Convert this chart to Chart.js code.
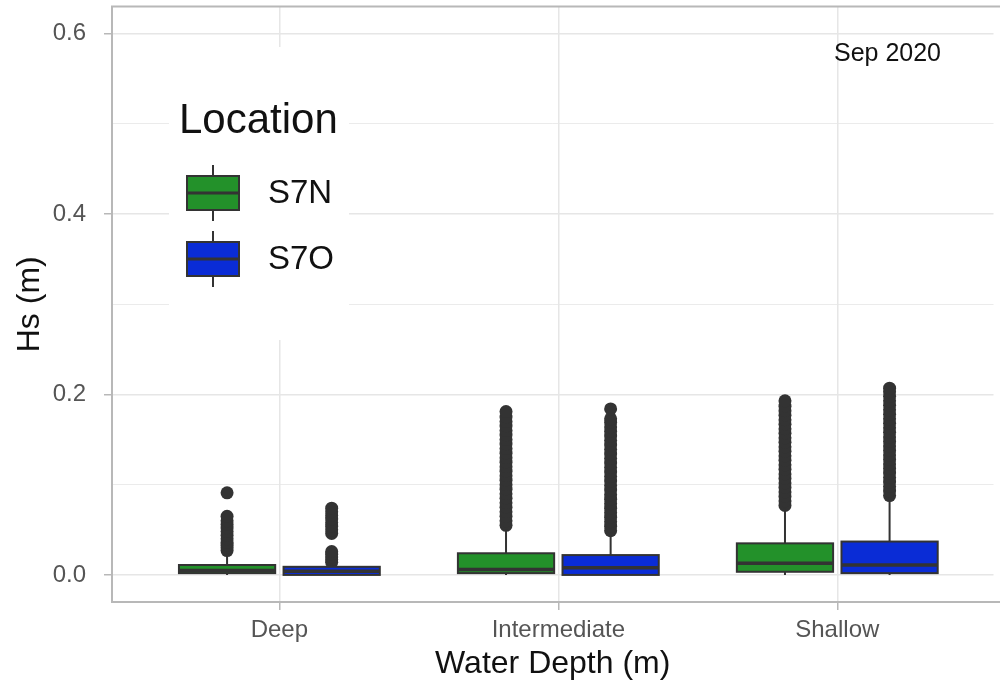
<!DOCTYPE html>
<html lang="en">
<head>
    <meta charset="UTF-8">
    <title>Hs by water depth - Sep 2020</title>
    <script src="https://cdn.jsdelivr.net/npm/chart.js@4.4.0"></script>
    <style>
        html, body { margin: 0; padding: 0; background: #fff; overflow: hidden; }
        .chart-container { width: 1000px; height: 686px; position: relative; }
    </style>
</head>
<body>
    <div class="chart-container">
        <canvas id="hsChart"></canvas>
    </div>

    <script>
        // categories / ticks
        const categories = ['Deep', 'Intermediate', 'Shallow'];
        const locations = ['S7N', 'S7O'];
        const yTicks = [0, 0.1, 0.2, 0.3, 0.4, 0.5, 0.6];
        const yTickLabels = ['0.0', '', '0.2', '', '0.4', '', '0.6'];

        // box stats, one value per depth category
        const s7nLow  = [0.000, 0.000, 0.000];
        const s7nQ1   = [0.002, 0.002, 0.0035];
        const s7nMed  = [0.005, 0.006, 0.013];
        const s7nQ3   = [0.011, 0.024, 0.035];
        const s7nHigh = [0.024, 0.050, 0.074];

        const s7oLow  = [0.000, 0.000, 0.000];
        const s7oQ1   = [0.000, 0.000, 0.002];
        const s7oMed  = [0.004, 0.008, 0.011];
        const s7oQ3   = [0.009, 0.022, 0.037];
        const s7oHigh = [0.012, 0.045, 0.086];

        // outliers
        const s7nDeepOut = [0.027, 0.030, 0.033, 0.036, 0.040, 0.044, 0.048, 0.052, 0.056, 0.060, 0.065, 0.091];
        const s7nInterOut = [0.055, 0.060, 0.065, 0.070, 0.075, 0.080, 0.085, 0.090, 0.095, 0.100, 0.105, 0.110,
            0.115, 0.120, 0.125, 0.130, 0.135, 0.140, 0.145, 0.150, 0.155, 0.160, 0.165, 0.170, 0.175, 0.181];
        const s7nShallowOut = [0.077, 0.082, 0.087, 0.092, 0.097, 0.102, 0.107, 0.112, 0.117, 0.122, 0.127, 0.132,
            0.137, 0.142, 0.147, 0.152, 0.157, 0.162, 0.167, 0.172, 0.177, 0.182, 0.187, 0.193];

        const s7oDeepOut = [0.014, 0.017, 0.020, 0.023, 0.026, 0.046, 0.050, 0.054, 0.058, 0.062, 0.066, 0.070, 0.074];
        const s7oInterOut = [0.049, 0.054, 0.059, 0.064, 0.069, 0.074, 0.079, 0.084, 0.089, 0.094, 0.099, 0.104,
            0.109, 0.114, 0.119, 0.124, 0.129, 0.134, 0.139, 0.144, 0.149, 0.154, 0.159, 0.164, 0.169, 0.173, 0.184];
        const s7oShallowOut = [0.088, 0.093, 0.098, 0.103, 0.108, 0.113, 0.118, 0.123, 0.128, 0.133, 0.138, 0.143,
            0.148, 0.153, 0.158, 0.163, 0.168, 0.173, 0.178, 0.183, 0.188, 0.193, 0.198, 0.203, 0.207];

        const s7nOut = [s7nDeepOut, s7nInterOut, s7nShallowOut];
        const s7oOut = [s7oDeepOut, s7oInterOut, s7oShallowOut];

        const fills = ['#23912a', '#0a2cd6'];
        const dodge = [-0.1875, 0.1875];
        const boxWidth = 0.345;
        const stats = [
            { low: s7nLow, q1: s7nQ1, med: s7nMed, q3: s7nQ3, high: s7nHigh },
            { low: s7oLow, q1: s7oQ1, med: s7oMed, q3: s7oQ3, high: s7oHigh }
        ];

        function outlierPoints(groups, li) {
            const pts = [];
            groups.forEach((vals, ci) => {
                vals.forEach(v => pts.push({ x: ci + 1 + dodge[li], y: v }));
            });
            return pts;
        }

        const FONT = "'Liberation Sans', Arial, sans-serif";
        Chart.defaults.font.family = FONT;

        // boxes, whiskers, medians, panel border, legend, annotation
        const boxPlugin = {
            id: 'boxes',
            afterDatasetsDraw(chart) {
                const { ctx, chartArea, scales: { x, y } } = chart;
                ctx.save();
                stats.forEach((s, li) => {
                    categories.forEach((c, ci) => {
                        const xc = ci + 1 + dodge[li];
                        const px = x.getPixelForValue(xc);
                        const l = x.getPixelForValue(xc - boxWidth / 2);
                        const r = x.getPixelForValue(xc + boxWidth / 2);
                        const yq1 = y.getPixelForValue(s.q1[ci]);
                        const yq3 = y.getPixelForValue(s.q3[ci]);
                        ctx.strokeStyle = '#333333';
                        ctx.lineWidth = 2;
                        ctx.beginPath();
                        ctx.moveTo(px, y.getPixelForValue(s.high[ci]));
                        ctx.lineTo(px, yq3);
                        ctx.moveTo(px, y.getPixelForValue(s.low[ci]));
                        ctx.lineTo(px, yq1);
                        ctx.stroke();
                        ctx.fillStyle = fills[li];
                        ctx.fillRect(l, yq3, r - l, yq1 - yq3);
                        ctx.strokeRect(l, yq3, r - l, yq1 - yq3);
                        const ym = y.getPixelForValue(s.med[ci]);
                        ctx.lineWidth = 3.5;
                        ctx.beginPath();
                        ctx.moveTo(l, ym);
                        ctx.lineTo(r, ym);
                        ctx.stroke();
                    });
                });

                // panel border
                ctx.strokeStyle = '#b8b8b8';
                ctx.lineWidth = 2;
                ctx.strokeRect(chartArea.left, chartArea.top, chartArea.right + 20 - chartArea.left, chartArea.bottom - chartArea.top);

                // annotation
                ctx.fillStyle = '#111';
                ctx.font = '25px ' + FONT;
                ctx.textAlign = 'center';
                ctx.textBaseline = 'middle';
                ctx.fillText('Sep 2020', x.getPixelForValue(3.18), y.getPixelForValue(0.577));

                // legend
                ctx.fillStyle = '#ffffff';
                ctx.fillRect(169, 47, 180, 293);
                ctx.fillStyle = '#111';
                ctx.textAlign = 'left';
                ctx.font = '42px ' + FONT;
                ctx.fillText('Location', 179, 121);
                locations.forEach((name, li) => {
                    const cy = 193 + li * 66;
                    ctx.strokeStyle = '#333333';
                    ctx.lineWidth = 2;
                    ctx.beginPath();
                    ctx.moveTo(213, cy - 28);
                    ctx.lineTo(213, cy + 28);
                    ctx.stroke();
                    ctx.fillStyle = fills[li];
                    ctx.fillRect(187, cy - 17, 52, 34);
                    ctx.strokeRect(187, cy - 17, 52, 34);
                    ctx.lineWidth = 3;
                    ctx.beginPath();
                    ctx.moveTo(187, cy);
                    ctx.lineTo(239, cy);
                    ctx.stroke();
                    ctx.fillStyle = '#111';
                    ctx.font = '33px ' + FONT;
                    ctx.fillText(name, 268, cy + 1);
                });
                ctx.restore();
            }
        };

        const config = {
            type: 'scatter',
            data: {
                datasets: [
                    { label: 'S7N', data: outlierPoints(s7nOut, 0), backgroundColor: '#333333', borderWidth: 0, pointRadius: 6.5 },
                    { label: 'S7O', data: outlierPoints(s7oOut, 1), backgroundColor: '#333333', borderWidth: 0, pointRadius: 6.5 }
                ]
            },
            options: {
                responsive: true,
                maintainAspectRatio: false,
                animation: false,
                layout: { padding: { top: 5, right: 0, left: 0, bottom: 0 } },
                plugins: {
                    legend: { display: false },
                    tooltip: { enabled: false }
                },
                scales: {
                    x: {
                        type: 'linear',
                        min: 0.4,
                        max: 3.56,
                        afterBuildTicks: (scale) => { scale.ticks = categories.map((c, i) => ({ value: i + 1 })); },
                        afterFit: (scale) => {
                            scale.height = 84;
                            scale.paddingLeft = 0;
                            scale.paddingRight = 0;
                        },
                        grid: { color: '#e6e6e6', lineWidth: 1.5, drawTicks: true, tickLength: 8, tickColor: '#b8b8b8' },
                        border: { display: false },
                        ticks: {
                            autoSkip: false,
                            maxRotation: 0,
                            padding: 6,
                            color: '#555555',
                            font: { size: 24 },
                            callback: (v) => categories[Math.round(v) - 1]
                        },
                        title: {
                            display: true,
                            text: 'Water Depth (m)',
                            color: '#111',
                            font: { size: 32 },
                            padding: { top: 0, bottom: 3 }
                        }
                    },
                    y: {
                        type: 'linear',
                        min: -0.03,
                        max: 0.63,
                        afterBuildTicks: (scale) => { scale.ticks = yTicks.map(v => ({ value: v })); },
                        afterFit: (scale) => {
                            scale.width = 112;
                            scale.paddingTop = 0;
                            scale.paddingBottom = 0;
                        },
                        grid: {
                            color: '#e6e6e6',
                            lineWidth: (ctx) => (ctx.index % 2 === 0 ? 1.5 : 0.8),
                            drawTicks: true,
                            tickLength: 8,
                            tickColor: (ctx) => (ctx.index % 2 === 0 ? '#b8b8b8' : 'rgba(0,0,0,0)')
                        },
                        border: { display: false },
                        ticks: {
                            autoSkip: false,
                            padding: 18,
                            color: '#555555',
                            font: { size: 24 },
                            callback: (v, i) => yTickLabels[i]
                        },
                        title: {
                            display: true,
                            text: 'Hs (m)',
                            color: '#111',
                            font: { size: 32 },
                            padding: { top: 11, bottom: 0 }
                        }
                    }
                }
            },
            plugins: [boxPlugin]
        };

        new Chart(document.getElementById('hsChart'), config);
    </script>
</body>
</html>
